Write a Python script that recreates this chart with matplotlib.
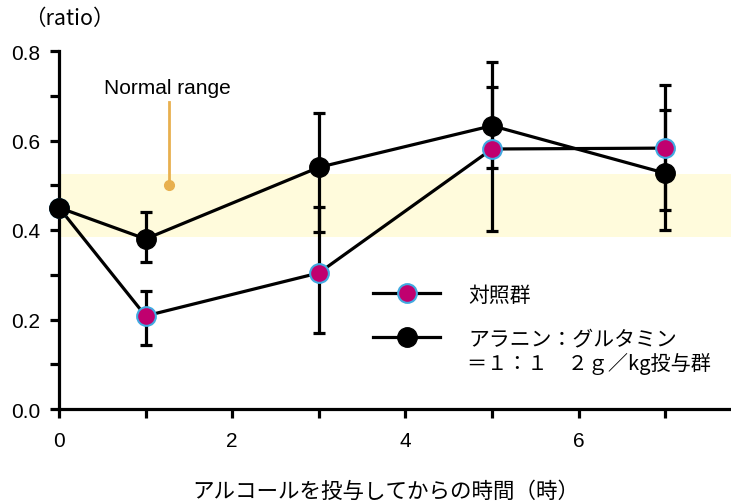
import matplotlib
matplotlib.use("Agg")
import matplotlib.pyplot as plt
from matplotlib.lines import Line2D

plt.rcParams['font.family'] = ['Liberation Sans', 'Noto Sans CJK JP', 'DejaVu Sans']
JP = ['Noto Sans CJK JP', 'DejaVu Sans']

# hours after alcohol dosing
hours = [0, 1, 3, 5, 7]

# control group
control = [0.45, 0.208, 0.304, 0.581, 0.583]
control_err_low = [0.0, 0.065, 0.135, 0.183, 0.138]
control_err_high = [0.0, 0.055, 0.147, 0.139, 0.142]

# alanine:glutamine = 1:1, 2 g/kg
alagln = [0.45, 0.380, 0.540, 0.633, 0.527]
alagln_err_low = [0.0, 0.051, 0.144, 0.095, 0.128]
alagln_err_high = [0.0, 0.060, 0.121, 0.142, 0.142]

normal_range = (0.384, 0.525)
note_x = 1.27
note_y = (0.50, 0.686)

x_ticks = [0, 1, 2, 3, 4, 5, 6, 7]
x_labels = ['0', '', '2', '', '4', '', '6', '']
y_ticks = [0.0, 0.1, 0.2, 0.3, 0.4, 0.5, 0.6, 0.7, 0.8]
y_labels = ['0.0', '', '0.2', '', '0.4', '', '0.6', '', '0.8']

MAGENTA = '#C0006F'
EDGE = '#41A9E1'
ORANGE = '#E8B04F'
BAND = '#FFFBDC'
LW = 2.3

fig = plt.figure(figsize=(7.31, 5.02), dpi=100)
ax = fig.add_axes([59 / 731, 1 - 410 / 502, 1 - 59 / 731, 358 / 502])

ax.axhspan(*normal_range, color=BAND, zorder=0, lw=0)

# normal range pointer
ax.plot([note_x, note_x], note_y, color=ORANGE, lw=2, zorder=1)
ax.plot(note_x, note_y[0], 'o', color=ORANGE, ms=7, zorder=1)
ax.text(note_x - 0.02, note_y[1] + 0.012, 'Normal range', ha='center', va='bottom', fontsize=15)

ax.errorbar(hours, control, yerr=[control_err_low, control_err_high], fmt='none',
            ecolor='black', elinewidth=LW, capsize=4.5, capthick=LW, zorder=2)
ax.errorbar(hours, alagln, yerr=[alagln_err_low, alagln_err_high], fmt='none',
            ecolor='black', elinewidth=LW, capsize=4.5, capthick=LW, zorder=2)

ax.plot(hours, control, '-', color='black', lw=LW, zorder=3)
ax.plot(hours, control, 'o', color=MAGENTA, mec=EDGE, mew=1.5, ms=13.5, zorder=4, clip_on=False)
ax.plot(hours, alagln, '-', color='black', lw=LW, zorder=5)
ax.plot(hours, alagln, 'o', color='black', ms=14, zorder=6, clip_on=False)

ax.set_xlim(0, 7.76)
ax.set_ylim(0, 0.8)
ax.set_xticks(x_ticks)
ax.set_xticklabels(x_labels)
ax.set_yticks(y_ticks)
ax.set_yticklabels(y_labels)
ax.tick_params(axis='both', width=LW, length=6.5, labelsize=15, direction='out')
ax.tick_params(axis='x', pad=9)
ax.tick_params(axis='y', pad=7)

for side in ('top', 'right'):
    ax.spines[side].set_visible(False)
for side in ('left', 'bottom'):
    ax.spines[side].set_linewidth(LW)

handles = [
    Line2D([], [], color='black', lw=LW, marker='o', mfc=MAGENTA, mec=EDGE, mew=1.5, ms=13.5),
    Line2D([], [], color='black', lw=LW, marker='o', mfc='black', mec='black', ms=14),
]
ax.legend(handles, ['対照群', 'アラニン：グルタミン'], loc='upper left',
          bbox_to_anchor=(0.468, 0.35), frameon=False, handlelength=3.2,
          handletextpad=1.35, labelspacing=1.05, borderpad=0, borderaxespad=0,
          prop={'family': JP, 'size': 15})
fig.text(467 / 731, 1 - 364 / 502, '＝１：１　２ｇ／kg投与群', ha='left', va='center',
         family=JP, fontsize=14.5)

fig.text(69 / 731, 1 - 19 / 502, '（ratio）', ha='center', va='center', family=JP, fontsize=15.5)
fig.text(386 / 731, 1 - 492 / 502, 'アルコールを投与してからの時間（時）', ha='center', va='center',
         family=JP, fontsize=15.5)

fig.savefig('out.png', dpi=100)
